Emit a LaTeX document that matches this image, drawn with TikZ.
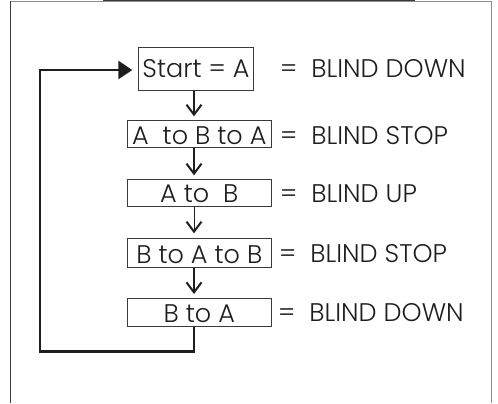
\documentclass[tikz,border=0pt]{standalone}
\usepackage{fontspec}
\setmainfont{Poppins}[UprightFont={* Light}]
\usetikzlibrary{arrows.meta,calc}
\definecolor{ink}{HTML}{1E1E1E}
\definecolor{framedark}{HTML}{3A3A3A}
\definecolor{framelight}{HTML}{8C8C8C}
\tikzset{
  stepbox/.style={draw=framedark, line width=0.9bp, inner sep=0pt, text=ink,
    font=\fontsize{25.5bp}{29bp}\selectfont, anchor=north west},
  lbl/.style={inner sep=0pt, text=ink, anchor=base west,
    font=\fontsize{25.5bp}{29bp}\selectfont},
  flowthick/.style={draw=ink, line width=2bp, shorten >=3.7bp,
    -{Straight Barb[length=10bp,width=15bp,line width=2bp]}},
  flowthin/.style={draw=ink, line width=1bp, shorten >=5bp,
    -{Straight Barb[length=10bp,width=15bp,line width=2bp]}},
  loopline/.style={draw=ink, line width=2.5bp, shorten >=6bp,
    -{Triangle[length=14bp,width=18bp]}}
}
\begin{document}
\begin{tikzpicture}[x=1bp,y=-1bp]
\useasboundingbox (0,0) rectangle (498,403);
% frame
\fill[framedark] (102.5,0) rectangle (415,1.4);
\draw[framelight, line width=1.2bp] (10.5,1.6) -- (491.3,1.6) -- (491.3,403);
\draw[framedark, line width=1.4bp] (10.5,1.2) -- (10.5,403);
% boxes
\node[stepbox, minimum width=114.4bp, minimum height=43.3bp, text height=30.8bp, text depth=12.5bp] (b1) at (138.3,46.7) {Start = A};
\node[stepbox, minimum width=144.3bp, minimum height=27.3bp, text height=24bp, text depth=3.3bp] (b2) at (126.7,120) {A\ \ to B to A};
\node[stepbox, minimum width=144.3bp, minimum height=27bp, text height=23.3bp, text depth=3.7bp] (b3) at (126.7,179) {A to\ \ B\hspace{25bp}};
\node[stepbox, minimum width=144.3bp, minimum height=28.4bp, text height=24.4bp, text depth=4bp] (b4) at (126.7,238.3) {B to A to B\hspace{17bp}};
\node[stepbox, minimum width=144.3bp, minimum height=28.3bp, text height=24bp, text depth=4.3bp] (b5) at (126.7,297.7) {B to A\hspace{12bp}};
% labels
\node[lbl] (l1) at (280,77.8) {=\ \ BLIND DOWN};
\node[lbl] (l2) at (280,144) {=\ \ BLIND STOP};
\node[lbl] (l3) at (280,202.3) {=\ \ BLIND UP};
\node[lbl] (l4) at (279,262.7) {=\ \ BLIND STOP};
\node[lbl] (l5) at (278,321.7) {=\ \ BLIND DOWN};
% connectors
\coordinate (ax) at (194,0);
\coordinate (lb) at (40,351.7);
\coordinate (lt) at (40,70);
\draw[flowthick] (b1.south -| ax) -- (b2.north -| ax);
\draw[flowthick] (b2.south -| ax) -- (b3.north -| ax);
\draw[flowthin] (b3.south -| ax) -- (b4.north -| ax);
\draw[flowthick] (b4.south -| ax) -- (b5.north -| ax);
\draw[loopline] (b5.south -| ax) |- (lb) -- (lt) -- (lt -| b1.west);
\end{tikzpicture}
\end{document}
